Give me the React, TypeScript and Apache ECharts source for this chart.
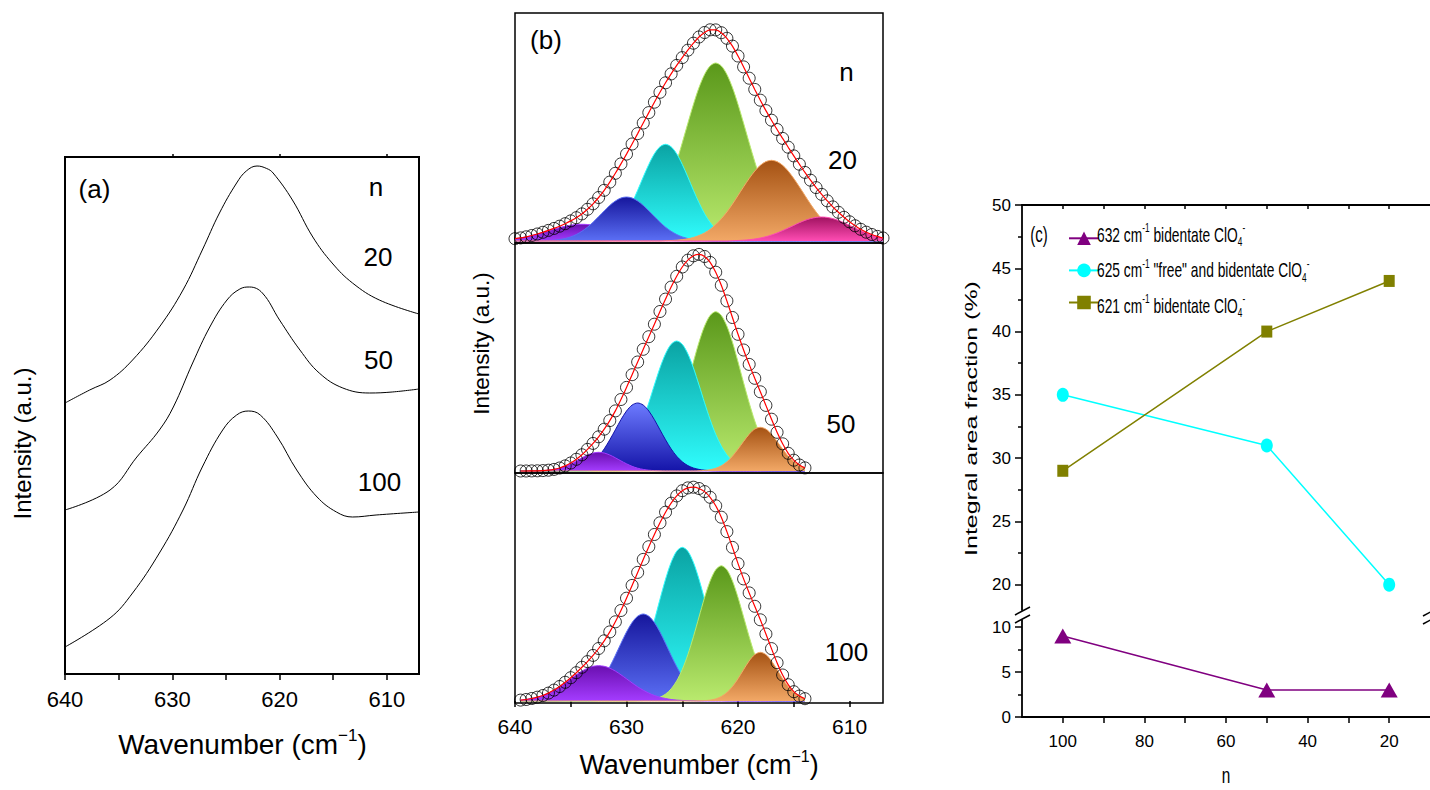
import React, { useEffect, useRef } from "react";
import * as echarts from "echarts";

// ---------------- Panel (a): Raman spectra (intensity in arbitrary units) ----------------
const A_WN_20 = [640.0, 637.7, 635.8, 633.7, 631.2, 629.0, 627.2, 625.6, 624.0, 623.1, 622.1, 621.2, 620.6, 618.8, 616.9, 615.1, 613.2, 610.7, 607.0];
const A_INT_20 = [271, 284, 294, 314, 347, 384, 424, 461, 491, 503, 508, 505.5, 501, 474, 437, 411, 391, 374, 360];
const A_WN_50 = [640.0, 635.8, 633.3, 631.2, 629.9, 628.1, 626.5, 624.9, 623.7, 622.8, 621.6, 620.0, 618.1, 616.3, 614.1, 611.6, 609.5, 607.0];
const A_INT_50 = [164, 184, 217, 244, 267, 311, 347, 374, 385, 387, 381, 354, 324, 301, 286, 281, 282, 285];
const A_WN_100 = [640.0, 635.8, 633.7, 631.2, 629.0, 627.2, 625.3, 624.0, 622.9, 621.8, 620.2, 618.4, 616.5, 614.7, 613.2, 611.0, 607.0];
const A_INT_100 = [27, 56, 81, 121, 164, 207, 244, 259, 263, 259, 237, 204, 177, 162, 157, 159, 162];

// ---------------- Panel (b): fitted spectra ----------------
const B_WN_1 = [640, 639.5, 639, 638.5, 638, 637.5, 637, 636.5, 636, 635.5, 635, 634.5, 634, 633.5, 633, 632.5, 632, 631.5, 631, 630.5, 630, 629.5, 629, 628.5, 628, 627.5, 627, 626.5, 626, 625.5, 625, 624.5, 624, 623.5, 623, 622.5, 622, 621.5, 621, 620.5, 620, 619.5, 619, 618.5, 618, 617.5, 617, 616.5, 616, 615.5, 615, 614.5, 614, 613.5, 613, 612.5, 612, 611.5, 611, 610.5, 610, 609.5, 609, 608.5, 608, 607.5, 607];
const B_WN_23 = [639.5, 639, 638.5, 638, 637.5, 637, 636.5, 636, 635.5, 635, 634.5, 634, 633.5, 633, 632.5, 632, 631.5, 631, 630.5, 630, 629.5, 629, 628.5, 628, 627.5, 627, 626.5, 626, 625.5, 625, 624.5, 624, 623.5, 623, 622.5, 622, 621.5, 621, 620.5, 620, 619.5, 619, 618.5, 618, 617.5, 617, 616.5, 616, 615.5, 615, 614.5, 614];

// n = 20 : measured points and components (each component list starts at the given wavenumber, step 0.5)
const B1_MEASURED = [2.3, 3.1, 4.2, 5.5, 7.0, 8.7, 10.6, 12.6, 14.8, 17.3, 20.1, 23.3, 27.1, 31.7, 37.2, 43.5, 50.7, 58.9, 67.7, 77.1, 86.9, 97.0, 107.4, 118.0, 128.4, 138.8, 148.7, 158.2, 167.1, 175.6, 183.4, 190.8, 197.8, 204.0, 208.5, 211.2, 211.1, 208.3, 202.7, 194.9, 185.0, 174.1, 162.8, 151.6, 140.8, 130.4, 120.8, 111.5, 102.6, 93.8, 85.1, 76.8, 68.6, 60.8, 53.4, 46.6, 40.2, 34.1, 28.7, 23.7, 19.2, 15.2, 11.7, 8.8, 6.5, 4.6, 3.0];
const B1_P_FROM = 640;
const B1_P = [2.3, 3.1, 4.2, 5.4, 6.9, 8.5, 10.1, 11.8, 13.4, 14.7, 15.8, 16.5, 16.7, 16.5, 15.8, 14.7, 13.4, 11.8, 10.1, 8.5, 6.9, 5.4, 4.2, 3.1, 2.3, 1.6, 1.1, 0.7, 0.5, 0.3, 0.2];
const B1_B_FROM = 637.5;
const B1_B = [0.2, 0.4, 0.8, 1.5, 2.5, 4.1, 6.5, 9.7, 13.8, 18.8, 24.4, 30.1, 35.6, 40.0, 43.0, 44, 43.0, 40.0, 35.6, 30.1, 24.4, 18.8, 13.8, 9.7, 6.5, 4.1, 2.5, 1.5, 0.8, 0.4, 0.2];
const B1_C_FROM = 635;
const B1_C = [0.05, 0.1, 0.3, 0.6, 1.2, 2.3, 4.2, 7.3, 11.9, 18.5, 27.3, 38.2, 50.7, 64.0, 76.6, 87.2, 94.2, 96.7, 94.2, 87.2, 76.6, 64.0, 50.7, 38.2, 27.3, 18.5, 11.9, 7.3, 4.2, 2.3, 1.2, 0.6, 0.3, 0.1, 0.05];
const B1_G_FROM = 632;
const B1_G = [0.2, 0.5, 0.8, 1.5, 2.6, 4.3, 7.0, 10.9, 16.5, 24.1, 34.1, 46.7, 61.9, 79.3, 98.2, 117.7, 136.6, 153.4, 166.6, 175.1, 178, 175.1, 166.6, 153.4, 136.6, 117.7, 98.2, 79.3, 61.9, 46.7, 34.1, 24.1, 16.5, 10.9, 7.0, 4.3, 2.6, 1.5, 0.8, 0.5, 0.2];
const B1_O_FROM = 626.5;
const B1_O = [0.3, 0.5, 0.8, 1.4, 2.2, 3.5, 5.5, 8.1, 11.7, 16.4, 22.2, 29.0, 36.9, 45.5, 54.2, 62.5, 69.9, 75.7, 79.4, 80.7, 79.4, 75.7, 69.9, 62.5, 54.2, 45.5, 36.9, 29.0, 22.2, 16.4, 11.7, 8.1, 5.5, 3.5, 2.2, 1.4, 0.8, 0.5, 0.3, 0.2];
const B1_K_FROM = 620.5;
const B1_K = [0.3, 0.5, 0.8, 1.3, 2.0, 3.0, 4.3, 6.0, 8.0, 10.4, 13.0, 15.6, 18.3, 20.6, 22.4, 23.6, 24, 23.6, 22.4, 20.6, 18.3, 15.6, 13.0, 10.4, 8.0, 6.0, 4.3, 3.0];

// n = 50
const B2_MEASURED = [0.0, 0.0, 0.1, 0.2, 0.4, 0.8, 1.6, 3.0, 5.1, 8.0, 11.7, 16.2, 21.6, 27.6, 34.2, 41.8, 50.4, 60.1, 71.5, 83.6, 96.3, 109.0, 121.7, 134.3, 146.8, 159.5, 171.9, 183.9, 194.7, 204.0, 210.8, 215.2, 216.6, 214.5, 208.6, 198.8, 185.7, 170.1, 153.5, 136.7, 121.0, 106.6, 92.7, 79.2, 65.6, 51.8, 38.7, 27.2, 17.7, 10.8, 6.0, 3.1];
const B2_P_FROM = 638;
const B2_P = [0.2, 0.4, 0.8, 1.6, 2.8, 4.7, 7.2, 10.1, 13.2, 16.0, 18.0, 18.7, 18.0, 16.0, 13.2, 10.1, 7.2, 4.7, 2.8, 1.6, 0.8, 0.4, 0.2];
const B2_B_FROM = 636;
const B2_B = [0.15, 0.35, 0.8, 1.6, 3.0, 5.4, 9.2, 14.7, 22.1, 31.2, 41.2, 51.3, 60.0, 65.9, 68, 65.9, 60.0, 51.3, 41.2, 31.2, 22.1, 14.7, 9.2, 5.4, 3.0, 1.6, 0.8, 0.35, 0.15];
const B2_C_FROM = 633.5;
const B2_C = [0.2, 0.4, 0.8, 1.7, 3.2, 5.7, 9.9, 16.0, 24.9, 36.6, 51.3, 68.2, 86.0, 103.1, 117.2, 126.7, 130, 126.7, 117.2, 103.1, 86.0, 68.2, 51.3, 36.6, 24.9, 16.0, 9.9, 5.7, 3.2, 1.7, 0.8, 0.4, 0.2];
const B2_G_FROM = 630.5;
const B2_G = [0.2, 0.4, 0.8, 1.6, 2.9, 5.3, 9.1, 15.0, 23.5, 35.1, 50.0, 68.1, 88.2, 109.1, 128.8, 144.9, 155.6, 159.3, 155.6, 144.9, 128.8, 109.1, 88.2, 68.1, 50.0, 35.1, 23.5, 15.0, 9.1, 5.3, 2.9, 1.6, 0.8, 0.4];
const B2_O_FROM = 623.5;
const B2_O = [0.2, 0.6, 1.3, 2.7, 5.2, 9.2, 14.8, 21.9, 29.6, 36.8, 41.9, 43.7, 41.9, 36.8, 29.6, 21.9, 14.8, 9.2, 5.2, 2.7];

// n = 100
const B3_MEASURED = [0.9, 1.5, 2.5, 3.8, 5.5, 7.9, 10.9, 14.5, 18.7, 23.3, 28.3, 33.7, 39.4, 45.6, 52.5, 60.2, 69.1, 79.2, 90.5, 102.8, 115.6, 128.6, 141.6, 154.3, 166.5, 178.2, 188.8, 197.8, 205.1, 210.3, 213.1, 213.8, 212.5, 209.4, 203.7, 195.2, 183.8, 169.4, 153.6, 137.4, 122.1, 108.1, 94.7, 81.2, 67.0, 52.4, 38.3, 26.0, 16.3, 9.3, 4.9, 2.3];
const B3_P_FROM = 639.5;
const B3_P = [0.9, 1.5, 2.5, 3.8, 5.5, 7.9, 10.8, 14.2, 18.1, 22.2, 26.2, 29.9, 32.8, 34.7, 35.3, 34.7, 32.8, 29.9, 26.2, 22.2, 18.1, 14.2, 10.8, 7.9, 5.5, 3.8, 2.5, 1.5, 0.9, 0.55, 0.3, 0.17];
const B3_B_FROM = 636.5;
const B3_B = [0.11, 0.26, 0.55, 1.1, 2.1, 3.8, 6.6, 10.7, 16.7, 24.5, 34.3, 45.6, 57.6, 69.0, 78.5, 84.8, 87, 84.8, 78.5, 69.0, 57.6, 45.6, 34.3, 24.5, 16.7, 10.7, 6.6, 3.8, 2.1, 1.1, 0.55, 0.26, 0.11];
const B3_C_FROM = 633;
const B3_C = [0.2, 0.46, 0.97, 1.95, 3.7, 6.7, 11.6, 19.0, 29.4, 43.4, 60.7, 80.6, 101.7, 121.8, 138.6, 149.8, 153.7, 149.8, 138.6, 121.8, 101.7, 80.6, 60.7, 43.4, 29.4, 19.0, 11.6, 6.7, 3.7, 1.95, 0.97, 0.46, 0.2];
const B3_G_FROM = 629;
const B3_G = [0.17, 0.4, 0.9, 1.9, 3.7, 6.9, 12.1, 20.1, 31.5, 46.3, 64.3, 84.0, 103.5, 120.1, 131.3, 135.3, 131.3, 120.1, 103.5, 84.0, 64.3, 46.3, 31.5, 20.1, 12.1, 6.9, 3.7, 1.9, 0.9, 0.4, 0.17];
const B3_O_FROM = 623.5;
const B3_O = [0.13, 0.37, 0.9, 2.1, 4.5, 8.4, 14.4, 22.3, 31.4, 40.1, 46.4, 48.7, 46.4, 40.1, 31.4, 22.3, 14.4, 8.4, 4.5, 2.1];

// ---------------- Panel (c): integral area fractions ----------------
const N_VALUES = [100, 50, 20];
const FRAC_632 = [9, 3, 3];
const FRAC_625 = [35, 31, 20];
const FRAC_621 = [29, 40, 44];
const SERIES_C = ["632", "625", "621"];
const LEGEND_C = [
  "632 cm{sup|-1} bidentate ClO{sub|4}{sup|-}",
  '625 cm{sup|-1} "free" and bidentate ClO{sub|4}{sup|-}',
  "621 cm{sup|-1} bidentate ClO{sub|4}{sup|-}",
];

// tick lists
const WN_TICKS = [640, 635, 630, 625, 620, 615, 610];
const WN_LABELS = [640, 630, 620, 610];
const N_TICKS = [100, 90, 80, 70, 60, 50, 40, 30, 20];
const N_LABELS = [100, 80, 60, 40, 20];
const UP_LABELS = [20, 25, 30, 35, 40, 45, 50];
const UP_MINOR = [22.5, 27.5, 32.5, 37.5, 42.5, 47.5];
const LOW_LABELS = [0, 5, 10];
const LOW_MINOR = [2.5, 7.5];

const FONT = "'Liberation Sans', Arial, sans-serif";

const COL: Record<string, [string, string]> = {
  purple: ["#6a0fb0", "#a43cff"],
  blueDark: ["#16169c", "#5b6ff5"],
  blueLight: ["#6d7bff", "#1414a8"],
  cyan: ["#0aa3a3", "#30fdfd"],
  green: ["#5a981a", "#b9ea6e"],
  orange: ["#a55213", "#f2a866"],
  pink: ["#a01260", "#ff4cb3"],
};

function compData(grid: number[], from: number, vals: number[]) {
  return grid.map((x) => {
    const k = Math.round((from - x) * 2);
    return [x, k >= 0 && k < vals.length ? vals[k] : 0];
  });
}
function zip(xs: number[], ys: number[]) {
  return xs.map((x, i) => [x, ys[i]]);
}

function areaSeries(idx: number, layer: number, grid: number[], from: number, vals: number[], col: [string, string]) {
  return {
    type: "line",
    xAxisIndex: 2 + idx,
    yAxisIndex: 1 + idx,
    data: compData(grid, from, vals),
    smooth: 0.3,
    showSymbol: false,
    symbol: "none",
    silent: true,
    z: 2 + layer,
    lineStyle: { width: 1, color: col[1] },
    areaStyle: {
      opacity: 1,
      color: new echarts.graphic.LinearGradient(0, 0, 0, 1, [
        { offset: 0, color: col[0] },
        { offset: 1, color: col[1] },
      ]),
    },
  };
}
function measured(idx: number, grid: number[], vals: number[]) {
  return [
    {
      type: "scatter",
      xAxisIndex: 2 + idx,
      yAxisIndex: 1 + idx,
      data: zip(grid, vals),
      symbol: "circle",
      symbolSize: 12,
      silent: true,
      z: 10,
      itemStyle: { color: "rgba(255,255,255,0)", borderColor: "#000", borderWidth: 1 },
    },
    {
      type: "line",
      xAxisIndex: 2 + idx,
      yAxisIndex: 1 + idx,
      data: zip(grid, vals),
      smooth: 0.3,
      showSymbol: false,
      symbol: "none",
      silent: true,
      z: 11,
      lineStyle: { width: 1.2, color: "#ff0000" },
    },
  ];
}

const tickLine = { color: "#000", width: 1.5 };

function text(t: string, x: number, y: number, size: number, extra: any = {}, align = "center") {
  const { style: extraStyle, ...rest } = extra;
  return {
    type: "text",
    x,
    y,
    silent: true,
    z: 20,
    ...rest,
    style: {
      text: t,
      fill: "#000",
      fontSize: size,
      fontFamily: FONT,
      align,
      verticalAlign: "middle",
      textAlign: align,
      textVerticalAlign: "middle",
      ...(extraStyle || {}),
    },
  };
}

function wavenumberTitle(x: number, y: number, size: number) {
  return text("Wavenumber (cm{sup|\u22121})", x, y, size, {
    style: {
      lineHeight: size + 7,
      rich: {
        sup: { fontSize: Math.round(size * 0.6), fontFamily: FONT, fill: "#000", verticalAlign: "top", lineHeight: 18 },
      },
    },
  });
}

function legendText(t: string, x: number, y: number) {
  return text(t, x, y, 20, {
    scaleX: 0.69,
    style: {
      lineHeight: 26,
      rich: {
        sup: { fontSize: 12, fontFamily: FONT, fill: "#000", verticalAlign: "top", lineHeight: 13 },
        sub: { fontSize: 12, fontFamily: FONT, fill: "#000", verticalAlign: "bottom", lineHeight: 13 },
      },
    },
  }, "left");
}

function buildOption(): any {
  const xB = (gi: number, show: boolean) => ({
    gridIndex: gi,
    type: "value",
    min: 607,
    max: 640,
    inverse: true,
    position: "bottom",
    axisLine: { show: false },
    splitLine: { show: false },
    axisTick: { show, customValues: WN_TICKS, length: 6, lineStyle: tickLine },
    axisLabel: { show, customValues: WN_LABELS, fontFamily: FONT, fontSize: 21, color: "#000", margin: 13 },
  });
  const yB = (gi: number) => ({ gridIndex: gi, type: "value", min: -2, max: 228, show: false });

  const series: any[] = [
    // panel (a)
    ...[
      zip(A_WN_20, A_INT_20),
      zip(A_WN_50, A_INT_50),
      zip(A_WN_100, A_INT_100),
    ].map((d) => ({
      type: "line",
      xAxisIndex: 0,
      yAxisIndex: 0,
      data: d,
      smooth: 0.4,
      showSymbol: false,
      symbol: "none",
      silent: true,
      lineStyle: { color: "#000", width: 1 },
    })),
    // panel (b) n=20
    areaSeries(0, 0, B_WN_1, B1_G_FROM, B1_G, COL.green),
    areaSeries(0, 1, B_WN_1, B1_C_FROM, B1_C, COL.cyan),
    areaSeries(0, 2, B_WN_1, B1_P_FROM, B1_P, COL.purple),
    areaSeries(0, 3, B_WN_1, B1_B_FROM, B1_B, COL.blueDark),
    areaSeries(0, 4, B_WN_1, B1_O_FROM, B1_O, COL.orange),
    areaSeries(0, 5, B_WN_1, B1_K_FROM, B1_K, COL.pink),
    ...measured(0, B_WN_1, B1_MEASURED),
    // n=50
    areaSeries(1, 0, B_WN_23, B2_G_FROM, B2_G, COL.green),
    areaSeries(1, 1, B_WN_23, B2_C_FROM, B2_C, COL.cyan),
    areaSeries(1, 2, B_WN_23, B2_B_FROM, B2_B, COL.blueLight),
    areaSeries(1, 3, B_WN_23, B2_P_FROM, B2_P, COL.purple),
    areaSeries(1, 4, B_WN_23, B2_O_FROM, B2_O, COL.orange),
    ...measured(1, B_WN_23, B2_MEASURED),
    // n=100
    areaSeries(2, 0, B_WN_23, B3_C_FROM, B3_C, COL.cyan),
    areaSeries(2, 1, B_WN_23, B3_B_FROM, B3_B, COL.blueDark),
    areaSeries(2, 2, B_WN_23, B3_G_FROM, B3_G, COL.green),
    areaSeries(2, 3, B_WN_23, B3_P_FROM, B3_P, COL.purple),
    areaSeries(2, 4, B_WN_23, B3_O_FROM, B3_O, COL.orange),
    ...measured(2, B_WN_23, B3_MEASURED),
    // panel (c)
    {
      type: "line",
      name: SERIES_C[0],
      xAxisIndex: 6,
      yAxisIndex: 6,
      data: zip(N_VALUES, FRAC_632),
      symbol: "triangle",
      symbolSize: [17, 15],
      color: "#800080",
      itemStyle: { color: "#800080" },
      lineStyle: { color: "#800080", width: 1.5 },
      z: 5,
    },
    {
      type: "line",
      name: SERIES_C[1],
      xAxisIndex: 5,
      yAxisIndex: 4,
      data: zip(N_VALUES, FRAC_625),
      symbol: "circle",
      symbolSize: [12, 14],
      color: "#00ffff",
      itemStyle: { color: "#00ffff" },
      lineStyle: { color: "#00ffff", width: 1.5 },
      z: 5,
    },
    {
      type: "line",
      name: SERIES_C[2],
      xAxisIndex: 5,
      yAxisIndex: 4,
      data: zip(N_VALUES, FRAC_621),
      symbol: "rect",
      symbolSize: [11, 12],
      color: "#808000",
      itemStyle: { color: "#808000" },
      lineStyle: { color: "#808000", width: 1.5 },
      z: 5,
    },
  ];

  const cLabel = { fontFamily: FONT, fontSize: 17, color: "#000" };

  return {
    animation: false,
    backgroundColor: "#ffffff",
    grid: [
      { left: 65, top: 157, width: 354, height: 517, show: true, borderColor: "#000", borderWidth: 2, backgroundColor: "transparent" },
      { left: 515, top: 13, width: 368, height: 230, show: true, borderColor: "#000", borderWidth: 1.5, backgroundColor: "transparent" },
      { left: 515, top: 243, width: 368, height: 230, show: true, borderColor: "#000", borderWidth: 1.5, backgroundColor: "transparent" },
      { left: 515, top: 473, width: 368, height: 230, show: true, borderColor: "#000", borderWidth: 1.5, backgroundColor: "transparent" },
      { left: 1022, top: 205, width: 410, height: 405 },
      { left: 1022, top: 620, width: 410, height: 97 },
    ],
    xAxis: [
      {
        gridIndex: 0, type: "value", min: 607, max: 640, inverse: true, position: "bottom",
        axisLine: { show: false }, splitLine: { show: false },
        axisTick: { show: true, customValues: WN_TICKS, length: 6, lineStyle: tickLine },
        axisLabel: { show: true, customValues: WN_LABELS, fontFamily: FONT, fontSize: 22, color: "#000", margin: 14 },
      },
      {
        gridIndex: 0, type: "value", min: 607, max: 640, inverse: true, position: "top",
        axisLine: { show: false }, splitLine: { show: false },
        axisTick: { show: true, customValues: [630, 620, 610], length: 3, lineStyle: tickLine },
        axisLabel: { show: false },
      },
      xB(1, false),
      xB(2, false),
      xB(3, true),
      {
        gridIndex: 4, type: "value", min: 10, max: 110, inverse: true, position: "top",
        axisLine: { show: true, lineStyle: { color: "#000", width: 1.8 } }, splitLine: { show: false },
        axisTick: { show: true, inside: true, customValues: N_TICKS, length: 4, lineStyle: tickLine },
        axisLabel: { show: false },
      },
      {
        gridIndex: 5, type: "value", min: 10, max: 110, inverse: true, position: "bottom",
        axisLine: { show: true, lineStyle: { color: "#000", width: 1.8 } }, splitLine: { show: false },
        axisTick: { show: true, customValues: N_TICKS, length: 6, lineStyle: tickLine },
        axisLabel: { show: true, customValues: N_LABELS, ...cLabel, margin: 16 },
      },
    ],
    yAxis: [
      { gridIndex: 0, type: "value", min: 0, max: 517, show: false },
      yB(1),
      yB(2),
      yB(3),
      {
        gridIndex: 4, type: "value", min: 18, max: 50, position: "left",
        axisLine: { show: true, lineStyle: { color: "#000", width: 1.8 } }, splitLine: { show: false },
        axisTick: { show: true, customValues: UP_LABELS, length: 7, lineStyle: tickLine },
        axisLabel: { show: true, customValues: UP_LABELS, ...cLabel, margin: 11 },
      },
      {
        gridIndex: 4, type: "value", min: 18, max: 50, position: "left",
        axisLine: { show: false }, splitLine: { show: false },
        axisTick: { show: true, customValues: UP_MINOR, length: 4, lineStyle: tickLine },
        axisLabel: { show: false },
      },
      {
        gridIndex: 5, type: "value", min: 0, max: 10.78, position: "left",
        axisLine: { show: true, lineStyle: { color: "#000", width: 1.8 } }, splitLine: { show: false },
        axisTick: { show: true, customValues: LOW_LABELS, length: 7, lineStyle: tickLine },
        axisLabel: { show: true, customValues: LOW_LABELS, ...cLabel, margin: 11 },
      },
      {
        gridIndex: 5, type: "value", min: 0, max: 10.78, position: "left",
        axisLine: { show: false }, splitLine: { show: false },
        axisTick: { show: true, customValues: LOW_MINOR, length: 4, lineStyle: tickLine },
        axisLabel: { show: false },
      },
    ],
    legend: {
      data: SERIES_C,
      orient: "vertical",
      left: 1063,
      top: 226.5,
      itemWidth: 30,
      itemHeight: 17,
      itemGap: 18.5,
      selectedMode: false,
      formatter: () => "",
      textStyle: { fontSize: 10, lineHeight: 10 },
    },
    series,
    graphic: [
      // panel (a)
      text("(a)", 94.5, 189, 26),
      text("n", 376, 187, 26),
      text("20", 378, 256.5, 26),
      text("50", 378.5, 360, 26),
      text("100", 379.5, 481.5, 26),
      wavenumberTitle(242.5, 744, 28),
      text("Intensity (a.u.)", 22.5, 443.5, 24, { rotation: Math.PI / 2 }),
      // panel (b)
      text("(b)", 546, 40, 26),
      text("n", 846.5, 71.5, 26),
      text("20", 842.5, 160, 26),
      text("50", 841, 423.5, 26),
      text("100", 846.5, 651.7, 26),
      wavenumberTitle(699, 765, 27),
      text("Intensity (a.u.)", 481, 343.5, 22.5, { rotation: Math.PI / 2 }),
      // panel (c)
      text("(c)", 1039, 234, 22, { scaleX: 0.68 }),
      text("n", 1226, 775, 22, { scaleX: 0.7 }),
      text("Integral area fraction (%)", 971, 418.5, 25, { rotation: Math.PI / 2, scaleY: 0.68 }),
      legendText(LEGEND_C[0], 1097, 235),
      legendText(LEGEND_C[1], 1097, 270.5),
      legendText(LEGEND_C[2], 1097, 306),
      // axis break marks
      { type: "line", silent: true, z: 20, shape: { x1: 1015, y1: 615, x2: 1030, y2: 607 }, style: { stroke: "#000", lineWidth: 1.5 } },
      { type: "line", silent: true, z: 20, shape: { x1: 1015, y1: 623, x2: 1030, y2: 615 }, style: { stroke: "#000", lineWidth: 1.5 } },
      { type: "line", silent: true, z: 20, shape: { x1: 1423, y1: 616, x2: 1438, y2: 608 }, style: { stroke: "#000", lineWidth: 1.5 } },
      { type: "line", silent: true, z: 20, shape: { x1: 1423, y1: 624, x2: 1438, y2: 616 }, style: { stroke: "#000", lineWidth: 1.5 } },
    ],
  };
}

export default function App() {
  const ref = useRef<HTMLDivElement>(null);
  useEffect(() => {
    if (!ref.current) return;
    const chart = echarts.init(ref.current, null, { renderer: "svg" });
    chart.setOption(buildOption());
    return () => chart.dispose();
  }, []);
  return (
    <div
      ref={ref}
      style={{ position: "absolute", left: 0, top: 0, width: 1430, height: 790, background: "#fff" }}
    />
  );
}
